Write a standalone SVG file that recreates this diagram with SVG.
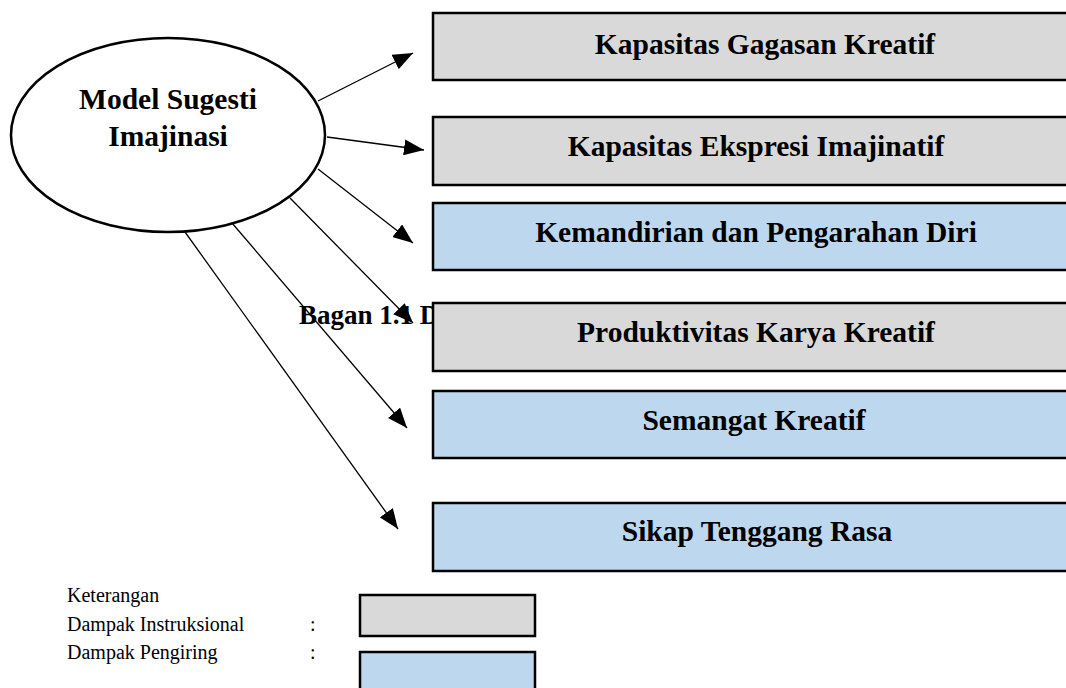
<svg xmlns="http://www.w3.org/2000/svg" width="1066" height="688" viewBox="0 0 1066 688">
<style>
.lbl{font-family:"Liberation Serif","Times New Roman",serif;font-weight:bold;font-size:29.5px;fill:#000}
.leg{font-family:"Liberation Serif","Times New Roman",serif;font-size:20px;fill:#000}
.gray{fill:#d9d9d9;stroke:#000;stroke-width:2.5}
.blue{fill:#bdd7ee;stroke:#000;stroke-width:2.5}
.conn line{stroke:#000;stroke-width:1.3;fill:none}
</style>
<defs>
<marker id="ah" markerUnits="userSpaceOnUse" markerWidth="22" markerHeight="16" refX="20" refY="8" orient="auto">
<path d="M0,0 L20,8 L0,16 Z" fill="#000"/>
</marker>
</defs>
<rect width="1066" height="688" fill="#fff"/>
<text class="lbl" x="299" y="324" style="font-size:27px">Bagan 1.1 D</text>
<g id="ellipse">
<ellipse cx="168" cy="135" rx="157" ry="97" fill="#fff" stroke="#000" stroke-width="2.5"/>
<text class="lbl" x="168" y="109" text-anchor="middle">Model Sugesti</text>
<text class="lbl" x="168" y="146" text-anchor="middle">Imajinasi</text>
</g>
<g class="conn" id="connectors">
<line x1="318" y1="101" x2="413" y2="53" marker-end="url(#ah)"/>
<line x1="327" y1="137" x2="424" y2="150" marker-end="url(#ah)"/>
<line x1="318" y1="169" x2="413" y2="243" marker-end="url(#ah)"/>
<line x1="290" y1="198" x2="413" y2="323" marker-end="url(#ah)"/>
<line x1="232" y1="223" x2="407" y2="428" marker-end="url(#ah)"/>
<line x1="185" y1="232" x2="398" y2="529" marker-end="url(#ah)"/>
</g>
<g id="box1"><rect class="gray" x="433" y="13" width="640" height="67"/><text class="lbl" x="765" y="54" text-anchor="middle">Kapasitas Gagasan Kreatif</text></g>
<g id="box2"><rect class="gray" x="433" y="117" width="640" height="68"/><text class="lbl" x="756" y="156" text-anchor="middle">Kapasitas Ekspresi Imajinatif</text></g>
<g id="box3"><rect class="blue" x="433" y="203" width="640" height="67"/><text class="lbl" x="756" y="242" text-anchor="middle">Kemandirian dan Pengarahan Diri</text></g>
<g id="box4"><rect class="gray" x="433" y="303" width="640" height="68"/><text class="lbl" x="756" y="342" text-anchor="middle">Produktivitas Karya Kreatif</text></g>
<g id="box5"><rect class="blue" x="433" y="391" width="640" height="67"/><text class="lbl" x="754" y="430" text-anchor="middle">Semangat Kreatif</text></g>
<g id="box6"><rect class="blue" x="433" y="503" width="640" height="68"/><text class="lbl" x="757" y="541" text-anchor="middle">Sikap Tenggang Rasa</text></g>
<g id="legend">
<text class="leg" x="67" y="602">Keterangan</text>
<text class="leg" x="67" y="631">Dampak Instruksional</text>
<text class="leg" x="310" y="631">:</text>
<text class="leg" x="67" y="659">Dampak Pengiring</text>
<text class="leg" x="310" y="659">:</text>
<rect class="gray" x="360" y="595" width="175" height="41"/>
<rect class="blue" x="360" y="652" width="175" height="45"/>
</g>
</svg>
